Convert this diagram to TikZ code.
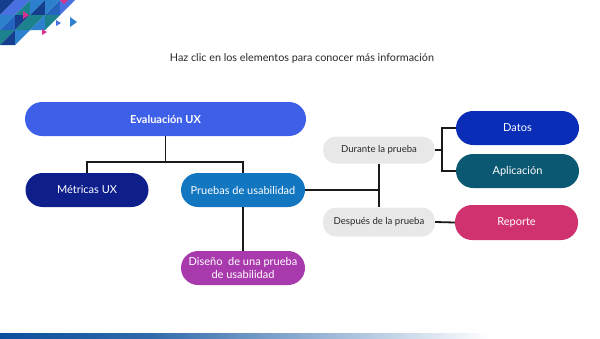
\documentclass[tikz,border=0pt]{standalone}
\usepackage{fontspec}
\setmainfont{Lato}
\usetikzlibrary{calc}
\definecolor{evalblue}{RGB}{62,95,232}
\definecolor{metnavy}{RGB}{14,31,140}
\definecolor{pruebablue}{RGB}{18,118,192}
\definecolor{disenopurple}{RGB}{169,58,174}
\definecolor{stepgray}{RGB}{232,232,232}
\definecolor{datosblue}{RGB}{10,45,184}
\definecolor{appteal}{RGB}{11,88,115}
\definecolor{reportpink}{RGB}{208,50,112}
\definecolor{barblue}{RGB}{11,79,156}
\definecolor{linkgray}{RGB}{26,26,26}
\definecolor{textgray}{RGB}{40,40,40}
\definecolor{accentpink}{RGB}{214,52,140}
\definecolor{tri0}{RGB}{36,100,190}
\definecolor{tri1}{RGB}{22,62,142}
\definecolor{tri2}{RGB}{28,130,142}
\definecolor{tri3}{RGB}{72,112,224}
\definecolor{tri4}{RGB}{44,128,206}

\begin{document}
\begin{tikzpicture}[
  x=1pt,y=-1pt,
  pill/.style={rectangle,rounded corners=17pt,minimum height=34pt,inner sep=2pt,text=white,
    font=\fontsize{11}{12.5}\selectfont,align=center},
  stepbox/.style={rectangle,rounded corners=13pt,minimum width=112pt,fill=stepgray,text=textgray,
    font=\fontsize{9.6}{11}\selectfont},
  link/.style={linkgray,line width=1.8pt},
  title/.style={font=\fontsize{10.8}{12.5}\selectfont,text=textgray}
]
\useasboundingbox (0,0) rectangle (600,338);
% ================= corner mosaic =================
\foreach \i in {0,...,5}{
  \foreach \j in {0,...,3}{
    \pgfmathtruncatemacro{\upin}{(\i*15+5) < (82-1.55*(\j*15+5)) ? 1 : 0}
    \pgfmathtruncatemacro{\lowin}{(\i*15+10) < (82-1.55*(\j*15+10)) ? 1 : 0}
    \pgfmathtruncatemacro{\ca}{mod(7*\i*\i+3*\j+5*\i*\j+1,5)}
    \pgfmathtruncatemacro{\cb}{mod(4*\i+7*\j*\j+3*\i*\j+3,5)}
    \ifnum\upin=1
      \fill[tri\ca] (\i*15,\j*15) -- ++(15,0) -- ++(-15,15) -- cycle;
    \fi
    \ifnum\lowin=1
      \fill[tri\cb] (\i*15+15,\j*15) -- ++(0,15) -- ++(-15,0) -- cycle;
    \fi
  }
}
\fill[accentpink] (23,11) -- (29,15) -- (23,19) -- cycle;
\fill[accentpink] (42,29) -- (47,32) -- (42,35) -- cycle;
\fill[accentpink] (60,0) -- (68,0) -- (64,4) -- cycle;
\fill[tri3] (56,20) -- (61,23) -- (56,26) -- cycle;
\fill[tri4] (70,17) -- (77,22) -- (70,27) -- cycle;
% ================= title =================
\node[title] (hint) at (302,58) {Haz clic en los elementos para conocer más información};
% ================= boxes =================
\node[pill,fill=evalblue,minimum width=281pt,font=\fontsize{11}{12.5}\selectfont\bfseries] (eval) at (165.5,119) {Evaluación UX};
\node[pill,fill=metnavy,minimum width=123pt] (metricas) at (87,190) {Métricas UX};
\node[pill,fill=pruebablue,minimum width=124pt] (pruebas) at (243,190) {Pruebas de usabilidad};
\node[pill,fill=disenopurple,minimum width=124pt] (diseno) at (243,268) {Diseño\ \ de una prueba\\de usabilidad};
\node[stepbox,minimum height=27pt] (durante) at (379,150) {Durante la prueba};
\node[stepbox,minimum height=29pt] (despues) at (379,222) {Después de la prueba};
\node[pill,fill=datosblue,minimum width=123pt] (datos) at (517.5,128) {Datos};
\node[pill,fill=appteal,minimum width=123pt] (aplicacion) at (517.5,171) {Aplicación};
\node[pill,fill=reportpink,minimum width=123pt,minimum height=35pt] (reporte) at (516.5,222.5) {Reporte};
% ================= connectors =================
\coordinate (evalfork) at (165.5,162);
\coordinate (stepfork) at (442,150);
\draw[link] (eval.south) -- (evalfork);
\draw[link] (metricas.north) |- (evalfork) -| (pruebas.north);
\draw[link] (pruebas.south) -- (diseno.north);
\draw[link] (pruebas.east) -- (pruebas.east -| durante.south);
\draw[link] (durante.south) -- (despues.north);
\draw[link] (durante.east) -- (stepfork);
\draw[link] (datos.west) -| (stepfork) |- (aplicacion.west);
\draw[link] (despues.east) -- (reporte.west);
% ================= bottom bar =================
\shade[left color=barblue,right color=barblue!85!white] (0,333) rectangle (150,338);
\shade[left color=barblue!85!white,right color=white] (150,333) rectangle (490,338);
\end{tikzpicture}
\end{document}
